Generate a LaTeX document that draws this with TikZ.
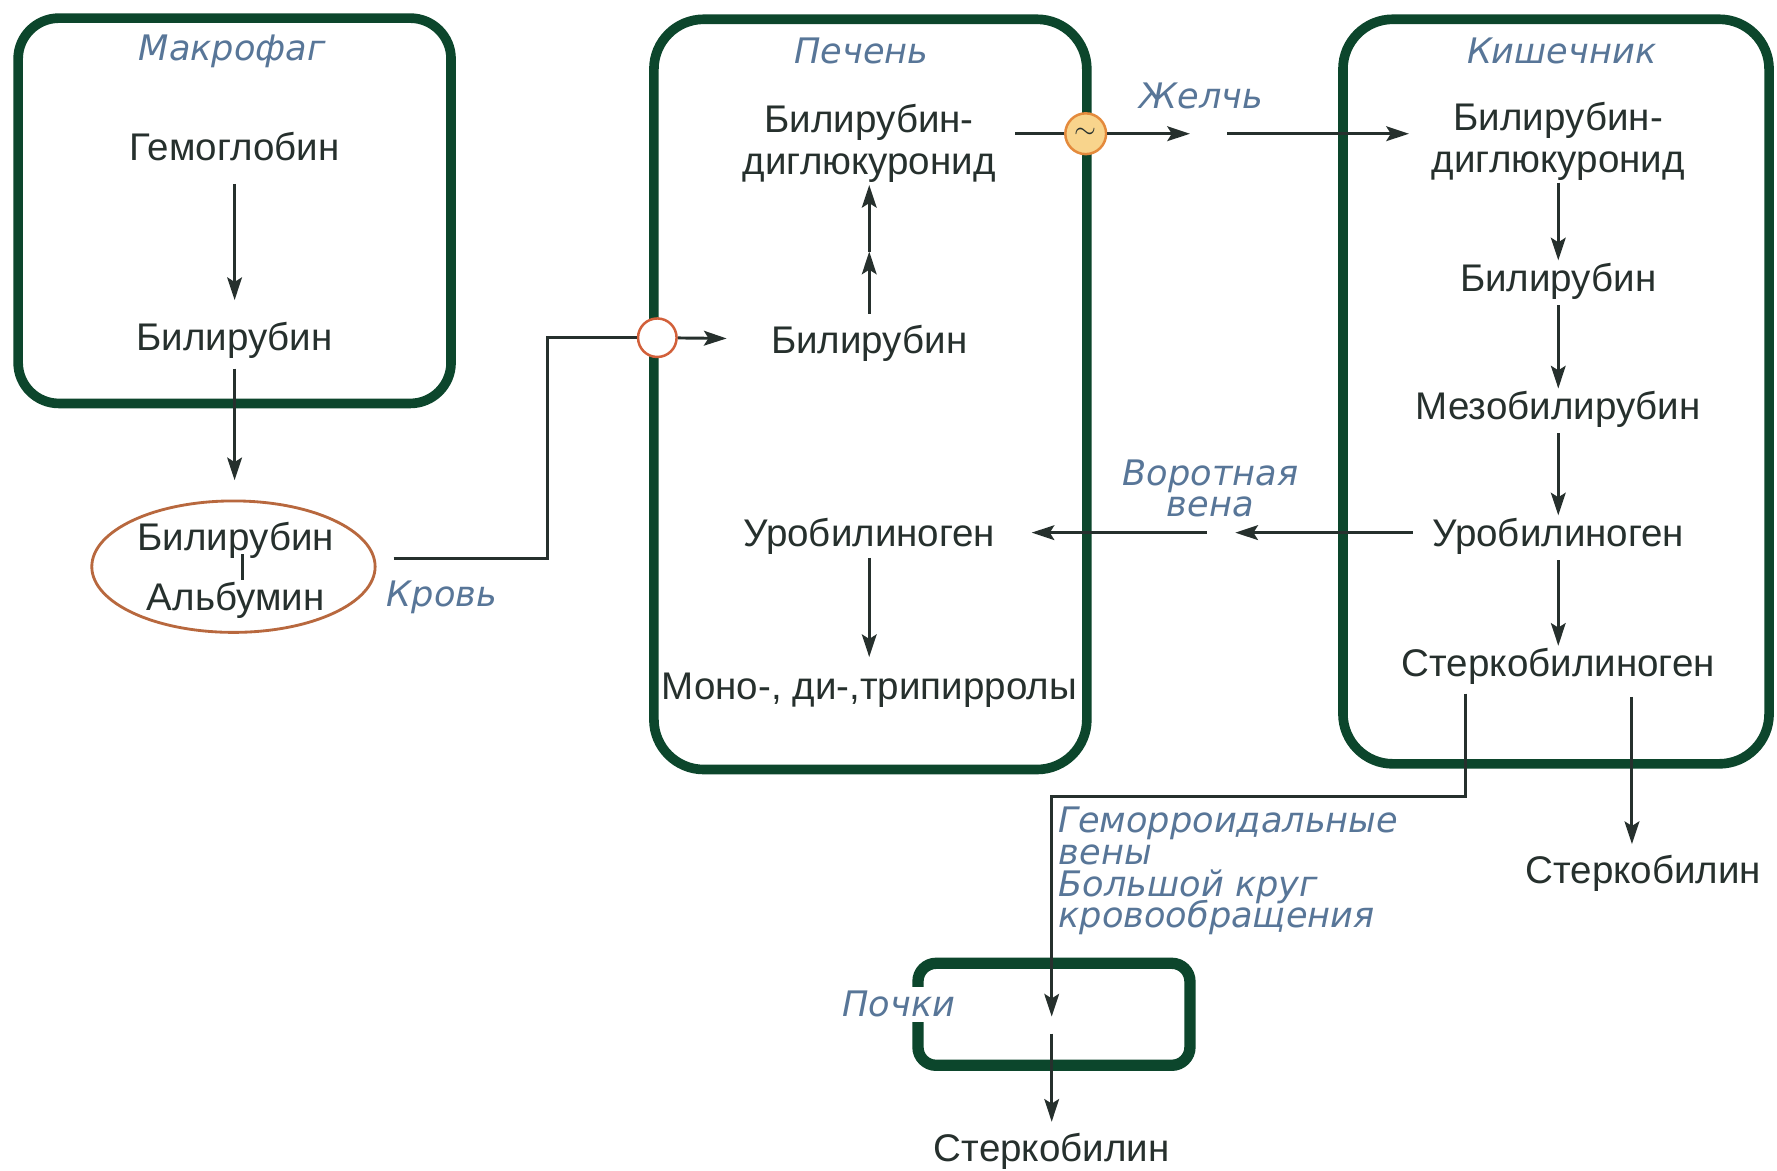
\documentclass[tikz,border=0pt]{standalone}
\usepackage{fontspec}
\setmainfont{Liberation Sans}
\newfontfamily\labfont{DejaVu Sans}
\usetikzlibrary{arrows.meta,shapes.geometric,calc}
\definecolor{boxgreen}{RGB}{12,70,44}
\definecolor{txt}{RGB}{38,48,45}
\definecolor{labc}{RGB}{88,118,152}
\definecolor{ellc}{RGB}{184,104,62}
\definecolor{ringc}{RGB}{210,96,58}
\definecolor{bilefill}{RGB}{248,212,140}
\definecolor{bileedge}{RGB}{228,138,60}
\newcommand\mytagfont{\labfont\itshape\fontsize{31}{28}\selectfont\lineskiplimit=-50pt\relax}
\begin{document}
\begin{tikzpicture}[x=1pt,y=-1pt,
 organ/.style={draw=boxgreen, line width=8.5pt, rounded corners=36pt, inner sep=0pt},
 chem/.style={text=txt, font=\fontsize{34}{37}\selectfont, align=center, inner sep=2pt},
 chemone/.style={chem, text height=25pt, text depth=1pt},
 tag/.style={text=labc, font=\mytagfont, inner sep=1pt},
 flow/.style={draw=txt, line width=2.6pt, -{Stealth[length=20pt,width=13pt,inset=4pt]}},
 pipe/.style={draw=txt, line width=2.6pt},
]
\useasboundingbox[fill=white] (0,0) rectangle (1568,1033);

% organ boxes
\node[organ, minimum width=382pt, minimum height=340pt] (mac) at (207,186) {};
\node[organ, rounded corners=44pt, minimum width=382pt, minimum height=662pt] (liver) at (768,348) {};
\node[organ, rounded corners=44pt, minimum width=376pt, minimum height=657pt] (gut) at (1373,345.5) {};
\node[organ, line width=10pt, rounded corners=16pt, minimum width=240pt, minimum height=90pt] (kid) at (930,895) {};

% titles
\node[tag] (tmac) at (205,45) {Макрофаг};
\node[tag] (tliver) at (760,45) {Печень};
\node[tag] (tgut) at (1378,45) {Кишечник};
\node[tag, fill=white, inner sep=4pt] (tkid) at (793,886) {Почки};
\node[tag] (tblood) at (390,527) {Кровь};
\node[tag] (tbile) at (1060,85) {Желчь};
\node[tag, align=center] (tportal) at (1068,431) {Воротная\\вена};
\node[tag, align=left, anchor=north west] (them) at (933,711) {Геморроидальные\\вены\\Большой круг\\кровообращения};

% macrophage
\node[chemone] (hb) at (207,130) {Гемоглобин};
\node[chemone] (bil1) at (207,297) {Билирубин};
\node[ellipse, draw=ellc, line width=2.5pt, minimum width=250pt, minimum height=116pt, inner sep=0pt] (alb) at (206,500) {};
\node[chemone] (ba1) at (208,474) {Билирубин};
\node[chemone] (ba2) at (208,527) {Альбумин};

% liver
\node[chem] (bdg1) at (767,126.5) {Билирубин-\\диглюкуронид};
\node[chemone] (bil2) at (767,300) {Билирубин};
\node[chemone] (uro1) at (767,470) {Уробилиноген};
\node[chemone] (pyr) at (767,605) {Моно-, ди-,трипирролы};

% intestine
\node[chem] (bdg2) at (1375,124.5) {Билирубин-\\диглюкуронид};
\node[chemone] (bil3) at (1375,245) {Билирубин};
\node[chemone] (meso) at (1375,358) {Мезобилирубин};
\node[chemone] (uro2) at (1375,470) {Уробилиноген};
\node[chemone] (sterk) at (1375,585) {Стеркобилиноген};

% outputs
\node[chemone] (sb1) at (1450,768) {Стеркобилин};
\node[chemone] (sb2) at (928,1013) {Стеркобилин};

% gates on the liver wall
\node[circle, draw=ringc, fill=white, line width=2.2pt, minimum size=34pt, inner sep=0pt] (c1) at (580,298) {};
\node[circle, draw=bileedge, fill=bilefill, line width=2.2pt, minimum size=36pt, inner sep=0pt, text=txt] (c2) at (958,118) {\fontsize{24}{24}\selectfont$\sim$};

% helper coordinates
\coordinate (kr) at (483,493);
\coordinate (mid) at (767,222);
\coordinate (zh) at (1066,118);
\coordinate (vg) at (1077,470);
\coordinate (s2) at (1293,612);
\coordinate (hv) at (928,703);
\coordinate (kin) at (928,897);
\coordinate (kout) at (928,912);
\coordinate (s3) at (1440,615);

% connectors: macrophage
\draw[flow, shorten <=17pt, shorten >=17pt] (hb) -- (bil1);
\draw[flow, shorten <=13pt, shorten >=17pt] (bil1) -- (bil1 |- alb.north);
\draw[pipe] ([xshift=15pt,yshift=7pt]alb.east) -- (kr) |- (c1);
\draw[line width=2.4pt, draw=txt] ([xshift=6pt]ba1.south) -- ([xshift=6pt]ba2.north);

% liver
\draw[flow, shorten >=37pt] (c1) -- (bil2);
\draw[flow, shorten <=8pt] (bil2) -- (mid);
\draw[flow] (mid) -- (bdg1);
\draw[pipe] ([xshift=15pt]bdg1.east |- c2) -- (c2);
\draw[flow] (c2) -- ([xshift=-16pt]zh);
\draw[flow, shorten >=18pt] ([xshift=17pt]zh) -- (bdg2.west |- zh);
\draw[flow, shorten <=7pt, shorten >=10pt] (uro1) -- (pyr);

% intestine
\draw[flow] (bdg2) -- (bil3);
\draw[flow, shorten <=9pt] (bil3) -- (meso);
\draw[flow, shorten <=9pt] (meso) -- (uro2);
\draw[flow, shorten <=9pt] (uro2) -- (sterk);
\draw[flow, shorten <=15pt] (uro2.west) -- ([xshift=13pt]vg);
\draw[flow, shorten >=30pt] ([xshift=-12pt]vg) -- (uro1.east);

% excretion
\draw[flow] (s2) |- (hv) -- (kin);
\draw[flow, shorten >=8pt] (kout) -- (sb2);
\draw[flow, shorten >=8pt] (s3) -- (s3 |- sb1.north);
\end{tikzpicture}
\end{document}
